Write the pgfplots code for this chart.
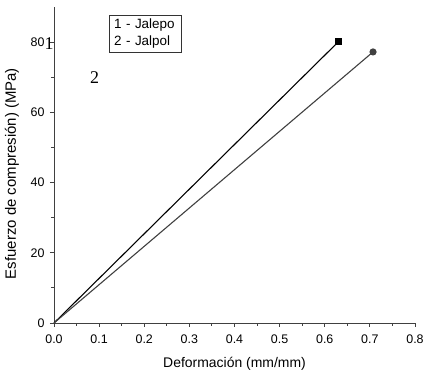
\documentclass[border=0pt]{standalone}
\usepackage{pgfplots}
\pgfplotsset{compat=1.18}
\usepackage{fontspec}
\setmainfont{Liberation Sans}
\newfontfamily\seriffont{Liberation Serif}
\begin{document}
\begin{tikzpicture}
\begin{axis}[
  scale only axis,
  width=361bp, height=316bp,
  xmin=0, xmax=0.8, ymin=0, ymax=90,
  axis lines=left,
  axis line style={black!75, line width=0.9bp, -},
  xtick={0,0.1,...,0.8},
  ytick={0,20,40,60,80},
  minor x tick num=1,
  minor y tick num=1,
  tick align=outside,
  major tick length=4bp,
  minor tick length=3bp,
  every tick/.style={black!75, line width=0.9bp},
  xticklabel style={/pgf/number format/.cd, fixed, fixed zerofill, precision=1, /tikz/.cd, yshift=-4bp},
  yticklabel style={xshift=-2bp},
  /pgf/number format/assume math mode=true,
  tick label style={font=\fontsize{12.5}{14}\selectfont},
  every axis x label/.style={at={(rel axis cs:0.5,0)}, yshift=-41bp, anchor=center, font=\fontsize{14}{16}\selectfont},
  every axis y label/.style={at={(rel axis cs:0,0.473)}, xshift=-42bp, rotate=90, anchor=center, font=\fontsize{15}{17}\selectfont},
  xlabel={Deformación (mm/mm)},
  ylabel={Esfuerzo de compresión) (MPa)},
  clip=false,
]
\addplot[black, line width=1.1bp, mark=square*, mark size=3bp, mark repeat=2, mark phase=2] coordinates {(0,0) (0.631,80.2)};
\addplot[black!75, line width=1.1bp, mark=*, mark size=3bp, mark repeat=2, mark phase=2] coordinates {(0,0) (0.707,77.2)};
\node[draw=black!80, line width=0.8bp, anchor=north west, align=left, text width=62bp, inner xsep=5bp, inner ysep=4bp, font=\fontsize{13.5}{16.5}\selectfont] at (rel axis cs:0.1515,0.9756) {1 - Jalepo\\2 - Jalpol};
\node[font=\seriffont\fontsize{18}{20}\selectfont] at (axis cs:-0.011,79.7) {1};
\node[font=\seriffont\fontsize{18}{20}\selectfont] at (axis cs:0.090,70.0) {2};
\coordinate (bl) at (rel axis cs:0,0);
\coordinate (tr) at (rel axis cs:1,1);
\end{axis}
\pgfresetboundingbox
\path[use as bounding box] ([xshift=-54bp,yshift=-53bp]bl) rectangle ([xshift=9bp,yshift=7bp]tr);
\end{tikzpicture}
\end{document}
